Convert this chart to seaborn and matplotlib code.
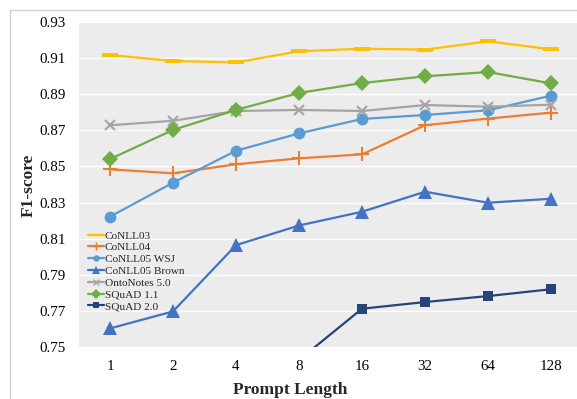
import numpy as np
import pandas as pd
import matplotlib
matplotlib.use("Agg")
import matplotlib.pyplot as plt
import seaborn as sns
from matplotlib.path import Path
from matplotlib.lines import Line2D

prompt_lengths = ["1", "2", "4", "8", "16", "32", "64", "128"]
conll03 = [0.9117, 0.9084, 0.9076, 0.9138, 0.9152, 0.9147, 0.9193, 0.9149]
conll04 = [0.8484, 0.8462, 0.8512, 0.8545, 0.8567, 0.8728, 0.8765, 0.8798]
conll05_wsj = [0.8222, 0.8410, 0.8587, 0.8683, 0.8763, 0.8785, 0.8811, 0.8892]
conll05_brown = [0.7603, 0.7697, 0.8064, 0.8173, 0.8249, 0.8360, 0.8299, 0.8321]
ontonotes = [0.8728, 0.8753, 0.8807, 0.8813, 0.8807, 0.8840, 0.8831, 0.8842]
squad11 = [0.8541, 0.8702, 0.8813, 0.8907, 0.8962, 0.8999, 0.9023, 0.8960]
squad20 = [np.nan, np.nan, np.nan, 0.7428, 0.7712, 0.7749, 0.7782, 0.7820]

series_names = ["CoNLL03", "CoNLL04", "CoNLL05 WSJ", "CoNLL05 Brown",
                "OntoNotes 5.0", "SQuAD 1.1", "SQuAD 2.0"]
series_values = [conll03, conll04, conll05_wsj, conll05_brown, ontonotes, squad11, squad20]
colors = ["#FFC000", "#ED7D31", "#5B9BD5", "#4472C4", "#A5A5A5", "#70AD47", "#264478"]
yticks = [0.75, 0.77, 0.79, 0.81, 0.83, 0.85, 0.87, 0.89, 0.91, 0.93]

dash = Path([(-1, -0.32), (1, -0.32), (1, 0.32), (-1, 0.32), (-1, -0.32)],
            [Path.MOVETO, Path.LINETO, Path.LINETO, Path.LINETO, Path.CLOSEPOLY])
markers = [dash, "+", "o", "^", "x", "D", "s"]
msizes = [11, 10, 8.5, 9.5, 7.5, 8.5, 7.5]
mews = [0, 1.5, 0, 0, 1.5, 0, 0]

sns.set_theme(style="white")
plt.rcParams["font.family"] = ["Liberation Serif", "DejaVu Serif"]

fig = plt.figure(figsize=(5.77, 3.99), dpi=100)
W, H = 577, 399
ax = fig.add_axes([78.5 / W, 1 - 347 / H, 504 / W, 325 / H])
ax.set_facecolor("#ECECEC")

for name, vals, c, m, ms, mew in zip(series_names, series_values, colors, markers, msizes, mews):
    df = pd.DataFrame({"x": prompt_lengths, "y": vals})
    sns.lineplot(data=df, x="x", y="y", ax=ax, color=c, linewidth=1.6,
                 marker=m, markersize=ms, markeredgewidth=mew,
                 markeredgecolor=c, markerfacecolor=c, label=name, sort=False)

ax.set_ylim(0.75, 0.93)
ax.set_xlim(-0.5, 7.5)
ax.set_yticks(yticks)
ax.set_yticklabels([f"{t:.2f}" for t in yticks])
ax.grid(axis="y", color="white", linewidth=1.0)
ax.set_axisbelow(True)
for s in ax.spines.values():
    s.set_visible(False)
ax.tick_params(axis="both", length=0, labelsize=10.8, colors="black")
ax.tick_params(axis="y", pad=9)
ax.tick_params(axis="x", pad=9)
ax.set_xlabel("")
ax.set_ylabel("")

handles = [Line2D([0], [0], color=c, linewidth=1.6, marker=m, markersize=ms * 0.55,
                  markeredgewidth=mew * 0.7, markeredgecolor=c, markerfacecolor=c)
           for c, m, ms, mew in zip(colors, markers, msizes, mews)]
ax.legend(handles, series_names, loc="upper left", bbox_to_anchor=(0.007, 0.375),
          frameon=False, fontsize=8.1, handlelength=1.45, handletextpad=0.05,
          labelspacing=0.17, borderaxespad=0.3, borderpad=0.2)

fig.text(290.5 / W, 1.5 / H, "Prompt Length", ha="center", va="bottom",
         fontsize=12.5, fontweight="bold")
fig.text(29 / W, 1 - 185 / H, "F1-score", ha="center", va="center",
         rotation=90, fontsize=12.5, fontweight="bold")

border = "#D0D0D0"
fig.add_artist(Line2D([10 / W, 10 / W], [0, 1 - 10 / H], color=border, linewidth=1,
                      transform=fig.transFigure))
fig.add_artist(Line2D([10 / W, 1], [1 - 10 / H, 1 - 10 / H], color=border, linewidth=1,
                      transform=fig.transFigure))

fig.savefig("out.png", dpi=100)
